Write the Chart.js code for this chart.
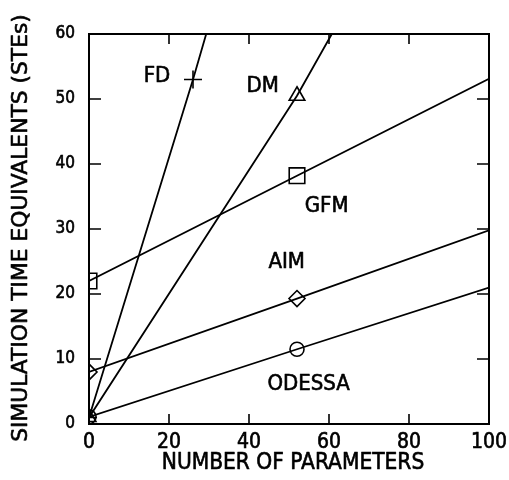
<!DOCTYPE html>
<html>
<head>
<meta charset="utf-8">
<script src="https://cdn.jsdelivr.net/npm/chart.js@4"></script>
<style>
html,body{margin:0;padding:0;background:#fff;}
#wrap{width:509px;height:480px;}
</style>
</head>
<body>
<div id="wrap"><canvas id="c" width="509" height="480"></canvas></div>
<script>
// ---- data ----
const xTicks = [0, 20, 40, 60, 80, 100];
const yTicks = [0, 10, 20, 30, 40, 50, 60];

const fdX = [0, 26, 29.3];
const fdY = [1, 53, 60];

const dmX = [0, 52, 60.7];
const dmY = [1, 50.5, 60];

const gfmX = [0, 52, 100];
const gfmY = [22, 38.2, 53.1];

const aimX = [0, 52, 100];
const aimY = [8, 19.3, 29.8];

const odessaX = [0, 52, 100];
const odessaY = [1.1, 11.5, 21];

const labelText = ['FD', 'DM', 'GFM', 'AIM', 'ODESSA'];
const labelX = [17, 43.4, 59.4, 49.4, 54.9];
const labelY = [53.5, 52, 33.5, 24.9, 6.1];

const xTitle = 'NUMBER OF PARAMETERS';
const yTitle = 'SIMULATION TIME EQUIVALENTS (STEs)';

function pts(xs, ys) { return xs.map((x, i) => ({x: x, y: ys[i]})); }

const COND = "'DejaVu Sans Condensed', 'DejaVu Sans', sans-serif";
const REG = "'DejaVu Sans', sans-serif";

function boldText(ctx, t, x, y) {
  ctx.fillText(t, x, y);
  ctx.strokeText(t, x, y);
}

const frame = {
  id: 'frame',
  afterDraw(chart) {
    const ctx = chart.ctx;
    const a = chart.chartArea;
    const xs = chart.scales.x, ys = chart.scales.y;
    ctx.save();
    ctx.strokeStyle = '#000';
    ctx.lineWidth = 2;
    ctx.strokeRect(a.left, a.top, a.right - a.left, a.bottom - a.top);
    ctx.lineWidth = 1.6;
    ctx.beginPath();
    xTicks.forEach(v => {
      const px = xs.getPixelForValue(v);
      ctx.moveTo(px, a.bottom); ctx.lineTo(px, a.bottom - 10);
      ctx.moveTo(px, a.top); ctx.lineTo(px, a.top + 10);
    });
    yTicks.forEach(v => {
      const py = ys.getPixelForValue(v);
      ctx.moveTo(a.left, py); ctx.lineTo(a.left + 12, py);
      ctx.moveTo(a.right, py); ctx.lineTo(a.right - 12, py);
    });
    ctx.stroke();

    ctx.fillStyle = '#000';
    ctx.lineWidth = 0.6;
    ctx.lineJoin = 'round';
    ctx.textAlign = 'center';
    ctx.textBaseline = 'middle';
    ctx.font = "22px " + COND;
    labelText.forEach((t, i) => {
      boldText(ctx, t, xs.getPixelForValue(labelX[i]), ys.getPixelForValue(labelY[i]));
    });

    // axis titles
    ctx.font = "22.5px " + COND;
    boldText(ctx, xTitle, (a.left + a.right) / 2 + 4, a.bottom + 39);
    ctx.save();
    ctx.translate(21, (a.top + a.bottom) / 2 - 1);
    ctx.rotate(-Math.PI / 2);
    ctx.font = "21.8px " + REG;
    boldText(ctx, yTitle, 0, 0);
    ctx.restore();
    ctx.restore();
  }
};

const common = {
  borderColor: '#000',
  borderWidth: 1.8,
  pointBorderColor: '#000',
  pointBackgroundColor: 'rgba(0,0,0,0)',
  pointBorderWidth: 1.6,
  fill: false,
  tension: 0
};

new Chart(document.getElementById('c'), {
  type: 'line',
  data: {
    datasets: [
      Object.assign({label: 'FD', data: pts(fdX, fdY), pointStyle: 'cross', pointRadius: [8, 9, 0]}, common),
      Object.assign({label: 'DM', data: pts(dmX, dmY), pointStyle: 'triangle', pointRadius: [8, 9, 0]}, common),
      Object.assign({label: 'GFM', data: pts(gfmX, gfmY), pointStyle: 'rect', pointRadius: [11, 11, 0]}, common),
      Object.assign({label: 'AIM', data: pts(aimX, aimY), pointStyle: 'rectRot', pointRadius: [8, 8, 0]}, common),
      Object.assign({label: 'ODESSA', data: pts(odessaX, odessaY), pointStyle: 'circle', pointRadius: [7, 7, 0]}, common)
    ]
  },
  options: {
    responsive: false,
    animation: false,
    events: [],
    layout: {padding: {top: 34, right: 20, left: 0, bottom: 0}},
    plugins: {legend: {display: false}, tooltip: {enabled: false}},
    scales: {
      x: {
        type: 'linear',
        min: 0, max: 100,
        afterFit: s => { s.height = 56; s.paddingLeft = 0; s.paddingRight = 0; },
        afterBuildTicks: s => { s.ticks = xTicks.map(v => ({value: v})); },
        grid: {display: false, drawTicks: false},
        border: {display: false},
        ticks: {color: '#000', padding: 6, maxRotation: 0, autoSkip: false, textStrokeColor: '#000', textStrokeWidth: 0.6, font: {family: COND, size: 21}},
        title: {display: false}
      },
      y: {
        type: 'linear',
        min: 0, max: 60,
        afterFit: s => { s.width = 89; s.paddingTop = 0; s.paddingBottom = 0; },
        afterBuildTicks: s => { s.ticks = yTicks.map(v => ({value: v})); },
        grid: {display: false, drawTicks: false},
        border: {display: false},
        ticks: {color: '#000', padding: 14, autoSkip: false, textStrokeColor: '#000', textStrokeWidth: 0.6, font: {family: COND, size: 17}},
        title: {display: false}
      }
    }
  },
  plugins: [frame]
});
</script>
</body>
</html>
